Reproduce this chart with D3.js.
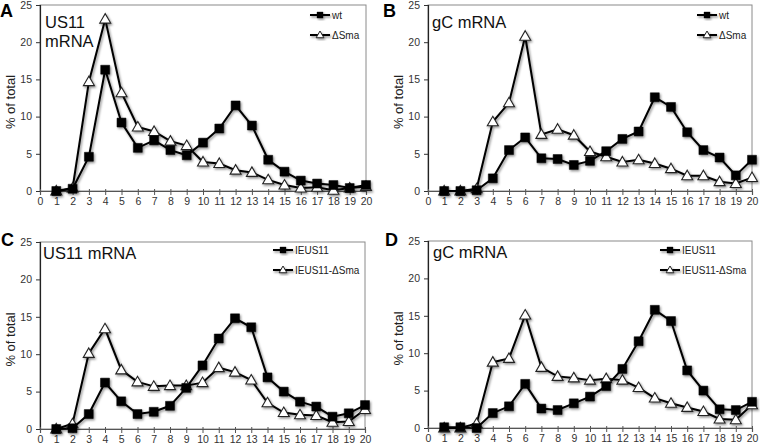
<!DOCTYPE html>
<html>
<head>
<meta charset="utf-8">
<script src="https://cdn.jsdelivr.net/npm/d3@7"></script>
<style>
html,body{margin:0;padding:0;background:#fff;}
svg{display:block;font-family:"Liberation Sans",Arial,sans-serif;}
</style>
</head>
<body>
<svg id="chart" width="760" height="446"></svg>
<script>
const fractions = d3.range(1, 21);
const xTicks = d3.range(0, 21);
const yTicks = [0, 5, 10, 15, 20, 25];

const aWt   = [0, 0.3, 4.6, 16.3, 9.2, 5.8, 6.8, 5.5, 4.8, 6.5, 8.4, 11.5, 8.8, 4.2, 2.6, 1.4, 1.0, 0.8, 0.4, 0.8];
const aSma  = [0, 0.4, 14.7, 23.1, 13.2, 8.6, 8.0, 6.7, 6.1, 3.9, 3.7, 2.8, 2.5, 1.5, 0.8, 0.4, 0.5, 0.1, 0.4, 0.6];
const bWt   = [0, 0, 0.1, 1.7, 5.5, 7.2, 4.4, 4.3, 3.5, 4.05, 5.35, 7.0, 8.0, 12.6, 11.3, 7.9, 5.5, 4.5, 2.1, 4.2];
const bSma  = [0, 0, 0.3, 9.3, 11.85, 20.8, 7.6, 8.3, 7.5, 5.3, 4.6, 3.9, 4.2, 3.7, 3.0, 2.05, 2.05, 1.25, 1.0, 1.8];
const cIe   = [0, 0.1, 2.0, 6.2, 3.7, 2.0, 2.3, 3.1, 5.5, 8.5, 12.1, 14.8, 13.6, 6.9, 5.0, 3.65, 3.0, 1.65, 2.1, 3.2];
const cSma  = [0, 0.7, 10.1, 13.4, 7.9, 6.3, 5.7, 5.8, 5.8, 6.2, 8.2, 7.6, 6.55, 3.5, 2.2, 1.9, 1.8, 0.9, 1.0, 2.6];
const dIe   = [0.1, 0.1, 0, 2.0, 2.9, 5.9, 2.6, 2.4, 3.3, 4.2, 5.6, 7.9, 11.6, 15.8, 14.3, 7.7, 5.0, 2.5, 2.4, 3.5];
const dSma  = [0, 0, 0.6, 8.8, 9.3, 15.1, 8.1, 6.9, 6.7, 6.4, 6.6, 6.4, 5.4, 4.0, 3.3, 2.75, 2.2, 1.2, 1.1, 3.1];

const panelLetters = ["A", "B", "C", "D"];
const panelTitles = [["US11", "mRNA"], ["gC mRNA"], ["US11 mRNA"], ["gC mRNA"]];
const legendNames = [["wt", "\u0394Sma"], ["wt", "\u0394Sma"], ["IEUS11", "IEUS11-\u0394Sma"], ["IEUS11", "IEUS11-\u0394Sma"]];
const seriesSets = [[aWt, aSma], [bWt, bSma], [cIe, cSma], [dIe, dSma]];
const yLabel = "% of total";

const svg = d3.select("#chart");
const defs = svg.append("defs");
const f = defs.append("filter").attr("id", "shadow").attr("x", "-20%").attr("y", "-20%").attr("width", "160%").attr("height", "160%");
f.append("feDropShadow").attr("dx", 1.2).attr("dy", 1.5).attr("stdDeviation", 0.9).attr("flood-color", "#000").attr("flood-opacity", 0.45);

const layout = [
  {left: 40, right: 366, top: 5, bottom: 191, letterX: 0, letterY: 17, legX: 310, legY: 15, titleX: 45, titleY: 22},
  {left: 428, right: 752, top: 5, bottom: 191, letterX: 383, letterY: 17, legX: 697, legY: 15, titleX: 432, titleY: 22},
  {left: 40, right: 365, top: 242, bottom: 429, letterX: 1, letterY: 246, legX: 273, legY: 250, titleX: 43, titleY: 253},
  {left: 428, right: 752, top: 241, bottom: 428, letterX: 385, letterY: 246, legX: 660, legY: 250, titleX: 433, titleY: 252}
];

const sqSym = d3.symbol().type(d3.symbolSquare).size(80);
const triSym = d3.symbol().type(d3.symbolTriangle).size(52);

function drawMarker(g, kind, x, y) {
  if (kind === 0) {
    g.append("path").attr("d", sqSym()).attr("transform", `translate(${x},${y})`)
      .attr("fill", "#000").attr("stroke", "#000").attr("stroke-width", 0.5);
  } else {
    g.append("path").attr("d", triSym()).attr("transform", `translate(${x},${y + 0.8})`)
      .attr("fill", "#fff").attr("stroke", "#222").attr("stroke-width", 1.1);
  }
}

layout.forEach((L, i) => {
  const g = svg.append("g");
  const x = d3.scaleLinear().domain([0, 20]).range([L.left, L.right]);
  const y = d3.scaleLinear().domain([0, 25]).range([L.bottom, L.top]);

  // frame
  g.append("rect").attr("x", L.left).attr("y", L.top)
    .attr("width", L.right - L.left).attr("height", L.bottom - L.top)
    .attr("fill", "none").attr("stroke", "#8a8a8a").attr("stroke-width", 1);

  // y axis
  const ya = g.append("g").attr("transform", `translate(${L.left},0)`)
    .call(d3.axisLeft(y).tickValues(yTicks).tickSize(4).tickPadding(4));
  ya.select(".domain").attr("stroke", "#222").attr("stroke-width", 1.2);
  ya.selectAll(".tick line").attr("stroke", "#333");
  ya.selectAll("text").attr("font-size", 10.5).attr("fill", "#333").attr("font-family", "Liberation Sans, Arial, sans-serif");

  // x axis
  const xa = g.append("g").attr("transform", `translate(0,${L.bottom})`)
    .call(d3.axisBottom(x).tickValues(xTicks).tickSize(4).tickPadding(3));
  xa.select(".domain").attr("stroke", "#555").attr("stroke-width", 1.2);
  xa.selectAll(".tick line").attr("stroke", "#555").attr("y1", -2);
  xa.selectAll("text").attr("font-size", 10.5).attr("fill", "#333").attr("font-family", "Liberation Sans, Arial, sans-serif");

  // y label
  g.append("text").attr("transform", `translate(${L.left - 25},${(L.top + L.bottom) / 2 + 4}) rotate(-90)`)
    .attr("text-anchor", "middle").attr("font-size", 13).attr("fill", "#222").text(yLabel);

  // panel letter
  g.append("text").attr("x", L.letterX).attr("y", L.letterY).attr("font-size", 18)
    .attr("font-weight", "bold").attr("fill", "#000").text(panelLetters[i]);

  // title
  panelTitles[i].forEach((t, k) => {
    g.append("text").attr("x", L.titleX).attr("y", L.titleY + k * 19).attr("dy", "0.35em")
      .attr("font-size", 16.5).attr("fill", "#111").text(t);
  });

  // series
  const line = d3.line().x((d, j) => x(fractions[j])).y(d => y(d));
  const sg = g.append("g").attr("filter", "url(#shadow)");
  [1, 0].forEach(s => {
    const vals = seriesSets[i][s];
    sg.append("path").datum(vals).attr("d", line).attr("fill", "none")
      .attr("stroke", "#000").attr("stroke-width", 2);
  });
  [1, 0].forEach(s => {
    const vals = seriesSets[i][s];
    vals.forEach((v, j) => drawMarker(sg, s, x(fractions[j]), y(v)));
  });

  // legend
  const lg = g.append("g");
  legendNames[i].forEach((name, s) => {
    const ly = L.legY + s * 20;
    const lsg = lg.append("g").attr("filter", "url(#shadow)");
    lsg.append("line").attr("x1", L.legX).attr("x2", L.legX + 20).attr("y1", ly).attr("y2", ly)
      .attr("stroke", "#000").attr("stroke-width", 2);
    if (s === 0) {
      lsg.append("path").attr("d", d3.symbol().type(d3.symbolSquare).size(40)()).attr("transform", `translate(${L.legX + 10},${ly})`).attr("fill", "#000");
    } else {
      lsg.append("path").attr("d", d3.symbol().type(d3.symbolTriangle).size(26)()).attr("transform", `translate(${L.legX + 10},${ly + 0.5})`)
        .attr("fill", "#fff").attr("stroke", "#222").attr("stroke-width", 1);
    }
    lg.append("text").attr("x", L.legX + 22).attr("y", ly).attr("dy", "0.35em")
      .attr("font-size", 10).attr("fill", "#222").text(name);
  });
});
</script>
</body>
</html>
